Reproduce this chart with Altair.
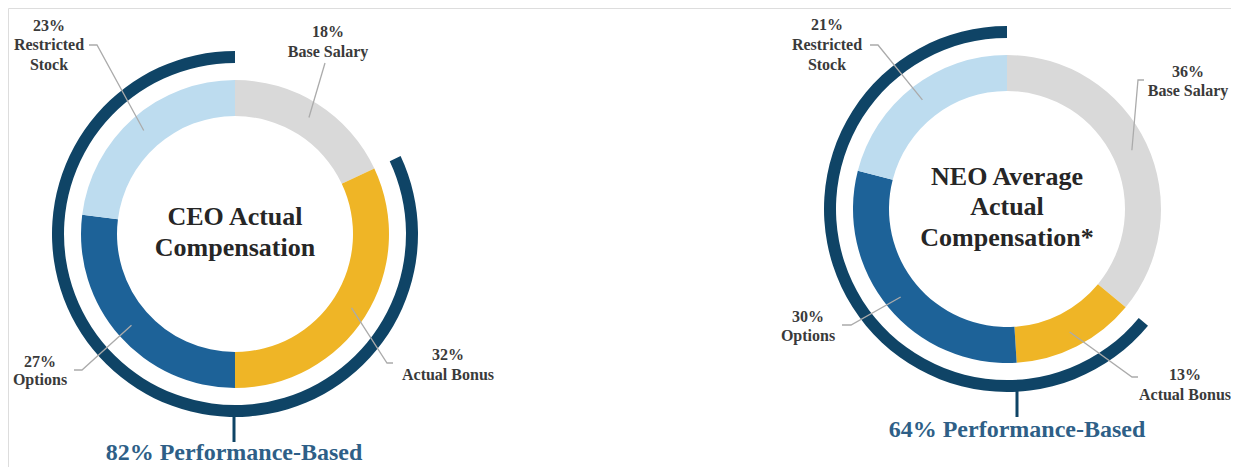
import math
import altair as alt
import pandas as pd

# ---------------- data ----------------
categories = ["Base Salary", "Actual Bonus", "Options", "Restricted Stock"]
ceo_values = [18, 32, 27, 23]
neo_values = [36, 13, 30, 21]
chart_titles = [["CEO Actual", "Compensation"], ["NEO Average", "Actual", "Compensation*"]]
colors = ["#d9d9d9", "#efb526", "#1d6298", "#bddcef"]

# ---------------- layout ----------------
OFF = 8
W, H = 1223, 459
NAVY = "#0f4466"
FONT = "Liberation Serif"

xs = alt.Scale(domain=[OFF, OFF + W], range=[0, W])
ys = alt.Scale(domain=[OFF, OFF + H], range=[0, H])
ts = alt.Scale(domain=[0, 100], range=[0, 2 * math.pi])

panels = [
    dict(values=ceo_values, title=chart_titles[0], cx=235, cy=234,
         title_y=[217, 248], perf_x=234, perf_y=453, tick=(417, 442),
         labels={
             "Restricted Stock": dict(tx=49, ty=[26, 45, 65], path=[(89, 45), (97, 45)]),
             "Base Salary": dict(tx=328, ty=[32, 52], path=[(325, 63)]),
             "Options": dict(tx=40, ty=[362, 380], path=[(74, 370), (82, 370)]),
             "Actual Bonus": dict(tx=448, ty=[355, 375], path=[(393, 363), (387, 363)]),
         }),
    dict(values=neo_values, title=chart_titles[1], cx=1007, cy=209,
         title_y=[177, 207, 238], perf_x=1017, perf_y=430, tick=(391, 417),
         labels={
             "Restricted Stock": dict(tx=827, ty=[25, 45, 65], path=[(870, 45), (878, 45)]),
             "Base Salary": dict(tx=1188, ty=[72, 91], path=[(1144, 80), (1138, 80)]),
             "Options": dict(tx=808, ty=[317, 336], path=[(842, 325), (851, 325)]),
             "Actual Bonus": dict(tx=1185, ty=[375, 395], path=[(1138, 377), (1132, 377)]),
         }),
]

layers = []
label_rows, leader_rows, title_rows, perf_rows, tick_rows = [], [], [], [], []

for pi, p in enumerate(panels):
    vals = p["values"]
    df = pd.DataFrame({"category": categories, "value": vals, "order": list(range(len(vals)))})
    donut = alt.Chart(df).mark_arc(radius=154, radius2=118).encode(
        theta=alt.Theta("value:Q", stack=True, scale=ts),
        color=alt.Color("category:N", scale=alt.Scale(domain=categories, range=colors), legend=None),
        order=alt.Order("order:Q"),
        x=alt.value(p["cx"] - OFF),
        y=alt.value(p["cy"] - OFF),
    )
    layers.append(donut)

    perf = 100 - vals[0]
    arc_df = pd.DataFrame({"start": [vals[0]], "end": [100]})
    ring = alt.Chart(arc_df).mark_arc(radius=183, radius2=171, color=NAVY).encode(
        theta=alt.Theta("start:Q", scale=ts, stack=False),
        theta2="end:Q",
        x=alt.value(p["cx"] - OFF),
        y=alt.value(p["cy"] - OFF),
    )
    layers.append(ring)

    # labels and leader lines
    cum = 0
    for cat, v in zip(categories, vals):
        mid = (cum + v / 2) / 100 * 2 * math.pi
        cum += v
        lab = p["labels"][cat]
        lines = [f"{v}%"] + (cat.split(" ") if cat == "Restricted Stock" else [cat])
        for ln, yy in zip(lines, lab["ty"]):
            label_rows.append({"x": lab["tx"], "y": yy, "text": ln})
        pts = list(lab["path"]) + [(p["cx"] + 138 * math.sin(mid), p["cy"] - 138 * math.cos(mid))]
        for k, (px, py) in enumerate(pts):
            leader_rows.append({"id": f"{pi}-{cat}", "seq": k, "x": px, "y": py})

    for ln, yy in zip(p["title"], p["title_y"]):
        title_rows.append({"x": p["cx"], "y": yy, "text": ln})
    perf_rows.append({"x": p["perf_x"], "y": p["perf_y"], "text": f"{perf}% Performance-Based"})
    tick_rows.append({"x": p["perf_x"], "y": p["tick"][0], "y2": p["tick"][1]})

leaders = alt.Chart(pd.DataFrame(leader_rows)).mark_line(color="#ababab", strokeWidth=1.3).encode(
    x=alt.X("x:Q", scale=xs, axis=None),
    y=alt.Y("y:Q", scale=ys, axis=None),
    detail="id:N",
    order="seq:Q",
)
ticks = alt.Chart(pd.DataFrame(tick_rows)).mark_rule(color=NAVY, strokeWidth=3).encode(
    x=alt.X("x:Q", scale=xs, axis=None),
    y=alt.Y("y:Q", scale=ys, axis=None),
    y2="y2:Q",
)
labels = alt.Chart(pd.DataFrame(label_rows)).mark_text(
    font=FONT, fontSize=16, fontWeight="bold", color="#3a3a3a", baseline="middle", align="center"
).encode(x=alt.X("x:Q", scale=xs, axis=None), y=alt.Y("y:Q", scale=ys, axis=None), text="text:N")
titles = alt.Chart(pd.DataFrame(title_rows)).mark_text(
    font=FONT, fontSize=26, fontWeight="bold", color="#262626", baseline="middle", align="center"
).encode(x=alt.X("x:Q", scale=xs, axis=None), y=alt.Y("y:Q", scale=ys, axis=None), text="text:N")
perfs = alt.Chart(pd.DataFrame(perf_rows)).mark_text(
    font=FONT, fontSize=24, fontWeight="bold", color="#2e5f87", baseline="middle", align="center"
).encode(x=alt.X("x:Q", scale=xs, axis=None), y=alt.Y("y:Q", scale=ys, axis=None), text="text:N")

chart = alt.layer(*layers, leaders, ticks, labels, titles, perfs).properties(
    width=W, height=H, padding=0, autosize=alt.AutoSizeParams(type="none")
).configure_view(stroke="transparent", strokeWidth=0).configure(background="white")

chart.save("out.html", embed_options={"renderer": "svg", "actions": False})
